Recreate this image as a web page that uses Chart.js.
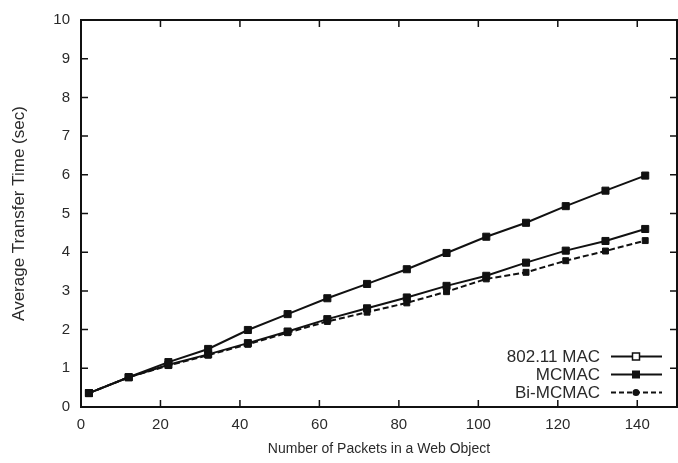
<!DOCTYPE html>
<html>
<head>
<meta charset="utf-8">
<script src="https://cdn.jsdelivr.net/npm/chart.js@4.4.1/dist/chart.umd.min.js"></script>
<style>
  html, body { margin: 0; padding: 0; background: #fff; overflow: hidden; }
  #wrap { width: 683px; height: 463px; position: relative; }
</style>
</head>
<body>
<div id="wrap"><canvas id="chart"></canvas></div>
<script>
// данные графика
const packets = [2, 12, 22, 32, 42, 52, 62, 72, 82, 92, 102, 112, 122, 132, 142];
const mac80211 = [0.36, 0.77, 1.16, 1.50, 1.99, 2.40, 2.81, 3.18, 3.56, 3.98, 4.40, 4.76, 5.19, 5.59, 5.98];
const mcmac = [0.36, 0.77, 1.09, 1.36, 1.65, 1.95, 2.27, 2.55, 2.83, 3.13, 3.39, 3.73, 4.04, 4.29, 4.60];
const biMcmac = [0.36, 0.77, 1.07, 1.34, 1.62, 1.92, 2.21, 2.45, 2.69, 2.98, 3.31, 3.48, 3.78, 4.03, 4.30];
const xTicks = [0, 20, 40, 60, 80, 100, 120, 140];
const yTicks = [0, 1, 2, 3, 4, 5, 6, 7, 8, 9, 10];
const seriesNames = ['802.11 MAC', 'MCMAC', 'Bi-MCMAC'];

const ink = '#111';
const textColor = '#2a2a2a';

function toPoints(ys) {
    return packets.map((x, i) => ({ x: x, y: ys[i] }));
}

// рамка и внутренние риски как в gnuplot, плюс легенда внутри области
const framePlugin = {
    id: 'frame',
    afterDatasetsDraw(chart) {
        const { ctx, chartArea: a, scales } = chart;
        const xs = scales.x, ys = scales.y;
        ctx.save();
        ctx.strokeStyle = ink;
        ctx.lineWidth = 1.5;
        const len = 7;
        ctx.beginPath();
        xTicks.forEach(v => {
            if (v === 0) return;
            const px = xs.getPixelForValue(v);
            ctx.moveTo(px, a.bottom); ctx.lineTo(px, a.bottom - len);
            ctx.moveTo(px, a.top); ctx.lineTo(px, a.top + len);
        });
        yTicks.forEach(v => {
            if (v === 0 || v === 10) return;
            const py = ys.getPixelForValue(v);
            ctx.moveTo(a.left, py); ctx.lineTo(a.left + len, py);
            ctx.moveTo(a.right, py); ctx.lineTo(a.right - len, py);
        });
        ctx.stroke();
        ctx.lineWidth = 2;
        ctx.strokeRect(a.left, a.top, a.right - a.left, a.bottom - a.top);

        // легенда
        const rows = [356.5, 374.5, 392.5];
        const textRight = 600, lx0 = 611, lx1 = 662, mx = 636;
        ctx.font = '17px "Liberation Sans", Arial, sans-serif';
        ctx.textAlign = 'right';
        ctx.textBaseline = 'middle';
        rows.forEach((ry, i) => {
            ctx.fillStyle = textColor;
            ctx.fillText(seriesNames[i], textRight, ry + 1);
            ctx.strokeStyle = ink;
            ctx.lineWidth = 1.8;
            ctx.setLineDash(i === 2 ? [5, 3] : []);
            ctx.beginPath();
            ctx.moveTo(lx0, ry); ctx.lineTo(lx1, ry);
            ctx.stroke();
            ctx.setLineDash([]);
            if (i === 0) {
                ctx.fillStyle = '#fff';
                ctx.fillRect(mx - 3.5, ry - 3.5, 7, 7);
                ctx.lineWidth = 1.5;
                ctx.strokeRect(mx - 3.5, ry - 3.5, 7, 7);
            } else if (i === 1) {
                ctx.fillStyle = ink;
                ctx.fillRect(mx - 4, ry - 4, 8, 8);
            } else {
                ctx.fillStyle = ink;
                ctx.beginPath();
                ctx.arc(mx, ry, 3.5, 0, Math.PI * 2);
                ctx.fill();
            }
        });
        ctx.restore();
    }
};

const chart = new Chart(document.getElementById('chart'), {
    type: 'line',
    data: {
        datasets: [
            {
                label: seriesNames[0],
                data: toPoints(mac80211),
                borderColor: ink,
                backgroundColor: ink,
                borderWidth: 2,
                pointStyle: 'rect',
                pointRadius: 5,
                pointBorderWidth: 1,
                tension: 0
            },
            {
                label: seriesNames[1],
                data: toPoints(mcmac),
                borderColor: ink,
                backgroundColor: ink,
                borderWidth: 2,
                pointStyle: 'rect',
                pointRadius: 5,
                pointBorderWidth: 1,
                tension: 0
            },
            {
                label: seriesNames[2],
                data: toPoints(biMcmac),
                borderColor: ink,
                backgroundColor: ink,
                borderWidth: 2,
                borderDash: [6, 3],
                pointStyle: 'rect',
                pointRadius: 4.2,
                pointBorderWidth: 1,
                tension: 0
            }
        ]
    },
    options: {
        responsive: true,
        maintainAspectRatio: false,
        animation: false,
        layout: { padding: { top: 16, right: 0, left: 0, bottom: 0 } },
        plugins: {
            legend: { display: false },
            tooltip: { enabled: false }
        },
        scales: {
            x: {
                type: 'linear',
                min: 0,
                max: 150,
                afterBuildTicks: s => { s.ticks = xTicks.map(v => ({ value: v })); },
                afterFit: s => { s.height = 56; },
                grid: { display: false, drawTicks: false },
                border: { display: false },
                ticks: {
                    padding: 9,
                    maxRotation: 0,
                    color: textColor,
                    font: { family: '"Liberation Sans", Arial, sans-serif', size: 15 }
                },
                title: {
                    display: true,
                    text: 'Number of Packets in a Web Object',
                    color: textColor,
                    padding: { top: 0, bottom: 5 },
                    font: { family: '"Liberation Sans", Arial, sans-serif', size: 14 }
                }
            },
            y: {
                min: 0,
                max: 10,
                afterBuildTicks: s => { s.ticks = yTicks.map(v => ({ value: v })); },
                afterFit: s => { s.width = 81; },
                grid: { display: false, drawTicks: false },
                border: { display: false },
                ticks: {
                    padding: 11,
                    color: textColor,
                    font: { family: '"Liberation Sans", Arial, sans-serif', size: 15 }
                },
                title: {
                    display: true,
                    text: 'Average Transfer Time (sec)',
                    color: textColor,
                    padding: { top: 9, bottom: 0 },
                    font: { family: '"Liberation Sans", Arial, sans-serif', size: 17 }
                }
            }
        }
    },
    plugins: [framePlugin]
});
</script>
</body>
</html>
